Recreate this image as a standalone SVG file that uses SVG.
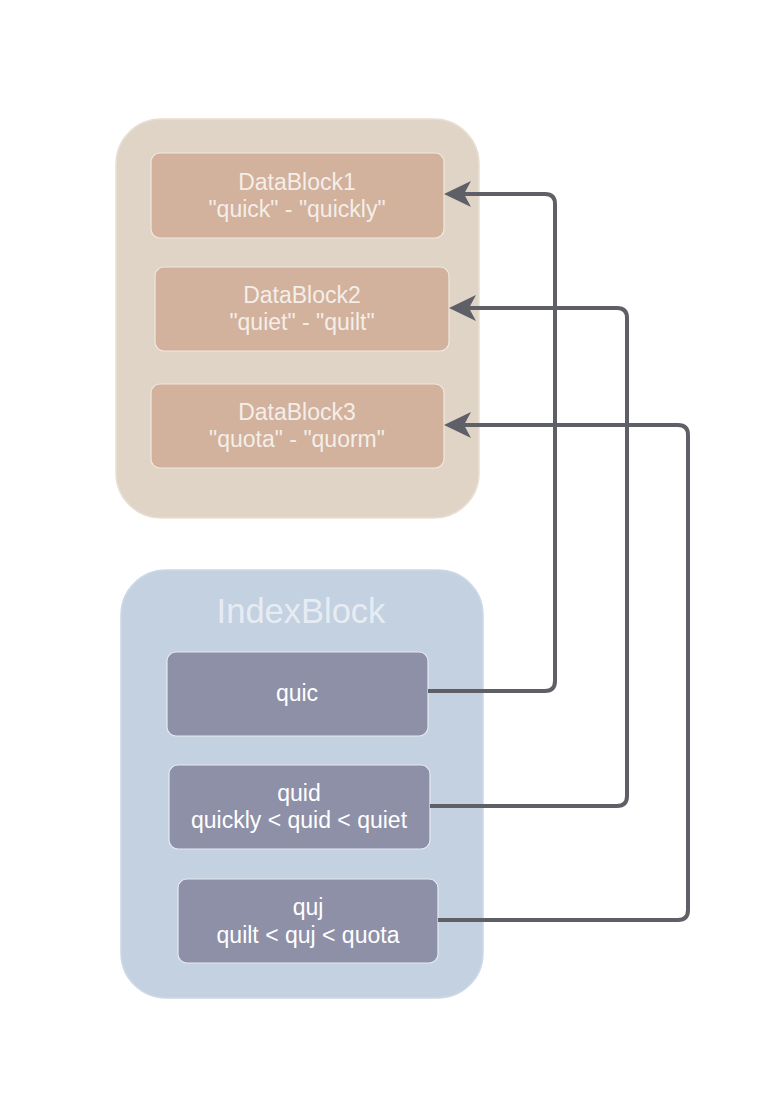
<svg xmlns="http://www.w3.org/2000/svg" width="776" height="1118" viewBox="0 0 776 1118">
  <style>
    .data-group { fill: #dfd4c6; stroke: #e8dfd4; stroke-width: 1.5; }
    .data-node { fill: #d2b19d; stroke: #f1e8df; stroke-width: 1.2; }
    .data-text { fill: #f4eee8; font-family: "Liberation Sans", Arial, sans-serif; font-size: 23px; text-anchor: middle; }
    .index-group { fill: #c3d1e1; stroke: #cdd8e6; stroke-width: 1.5; }
    .index-title { fill: #e7ecf3; font-family: "Liberation Sans", Arial, sans-serif; font-size: 34.5px; text-anchor: middle; }
    .index-node { fill: #8e90a8; stroke: #e6e9f0; stroke-width: 1.2; }
    .index-text { fill: #ffffff; font-family: "Liberation Sans", Arial, sans-serif; font-size: 23px; text-anchor: middle; }
    .link { fill: none; stroke: #5f5f67; stroke-width: 4; stroke-linejoin: round; marker-end: url(#arrow); }
  </style>
  <defs>
    <marker id="arrow" markerUnits="userSpaceOnUse" viewBox="0 -15 30 30" markerWidth="30" markerHeight="30" refX="17" refY="0" orient="auto">
      <path d="M0,-13 L27,0 L0,13 L7,0 Z" fill="#5f5f67"/>
    </marker>
  </defs>

  <rect width="776" height="1118" fill="#ffffff"/>

  <!-- data blocks -->
  <g id="data-blocks">
    <rect class="data-group" x="116" y="119" width="363" height="399" rx="45"/>
  </g>
  <g id="datablock1">
    <rect class="data-node" x="151" y="153" width="293" height="85" rx="9"/>
    <text class="data-text" x="297" y="190">DataBlock1</text>
    <text class="data-text" x="297" y="217">"quick" - "quickly"</text>
  </g>
  <g id="datablock2">
    <rect class="data-node" x="155" y="267" width="294" height="84" rx="9"/>
    <text class="data-text" x="302" y="303">DataBlock2</text>
    <text class="data-text" x="302" y="330">"quiet" - "quilt"</text>
  </g>
  <g id="datablock3">
    <rect class="data-node" x="151" y="384" width="293" height="84" rx="9"/>
    <text class="data-text" x="297" y="420">DataBlock3</text>
    <text class="data-text" x="297" y="447">"quota" - "quorm"</text>
  </g>

  <!-- index block -->
  <g id="index-block">
    <rect class="index-group" x="121" y="570" width="362" height="428" rx="45"/>
    <text class="index-title" x="301" y="623">IndexBlock</text>
  </g>
  <g id="index-quic">
    <rect class="index-node" x="167" y="652" width="261" height="84" rx="9"/>
    <text class="index-text" x="297" y="701">quic</text>
  </g>
  <g id="index-quid">
    <rect class="index-node" x="169" y="765" width="261" height="84" rx="9"/>
    <text class="index-text" x="299" y="801">quid</text>
    <text class="index-text" x="299" y="828">quickly &lt; quid &lt; quiet</text>
  </g>
  <g id="index-quj">
    <rect class="index-node" x="178" y="879" width="260" height="84" rx="9"/>
    <text class="index-text" x="308" y="915">quj</text>
    <text class="index-text" x="308" y="943">quilt &lt; quj &lt; quota</text>
  </g>

  <!-- index entries point at their data blocks -->
  <g id="connectors">
    <path class="link" d="M428,691 H545 Q555,691 555,681 V204 Q555,194 545,194 H454"/>
    <path class="link" d="M430,806 H617 Q627,806 627,796 V318 Q627,308 617,308 H459"/>
    <path class="link" d="M438,920 H678 Q688,920 688,910 V435 Q688,425 678,425 H454"/>
  </g>
</svg>
